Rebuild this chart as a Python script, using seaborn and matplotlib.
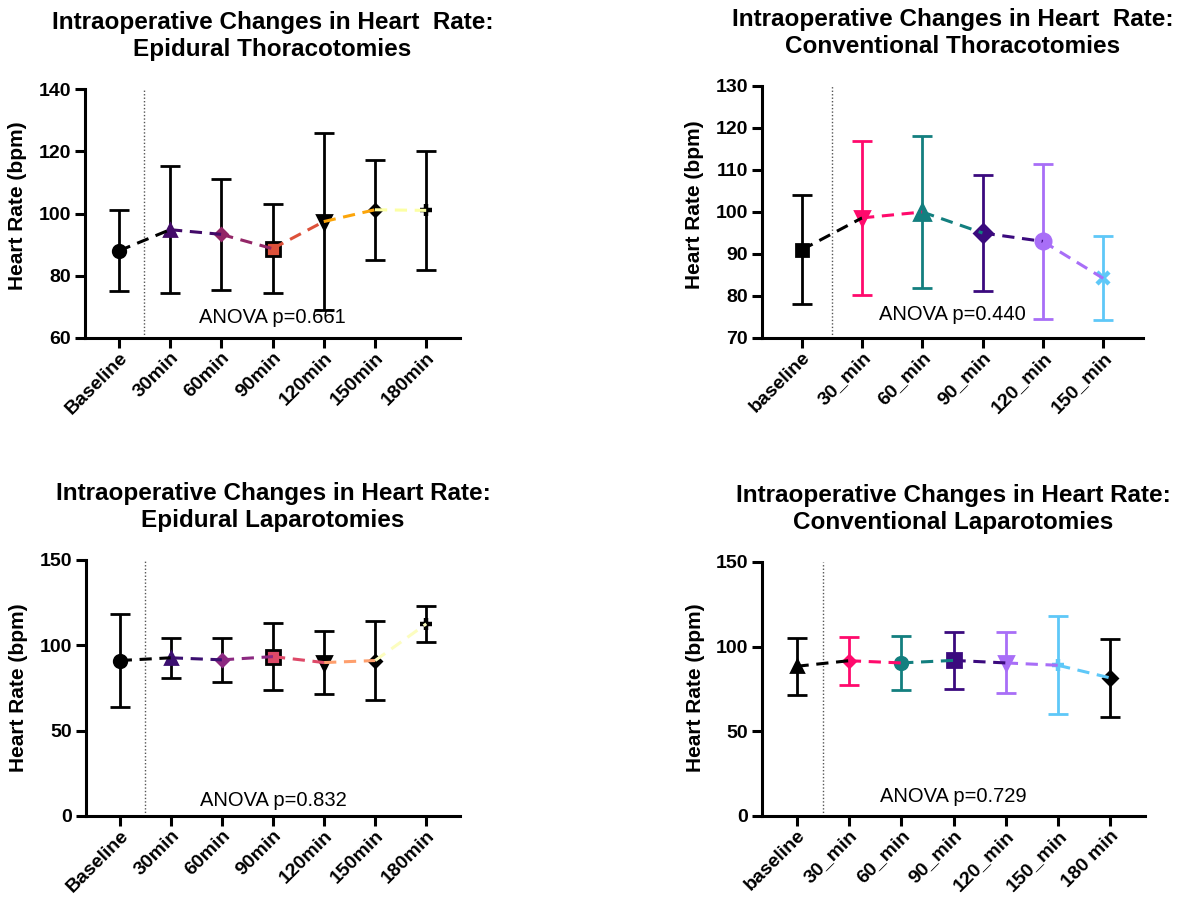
import numpy as np
import pandas as pd
import matplotlib
matplotlib.use("Agg")
import matplotlib.pyplot as plt
import seaborn as sns

sns.set_theme(style="ticks")
plt.rcParams['font.family'] = ['Liberation Sans', 'DejaVu Sans']
plt.rcParams['text.color'] = 'black'
plt.rcParams['axes.labelcolor'] = 'black'
plt.rcParams['xtick.color'] = 'black'
plt.rcParams['ytick.color'] = 'black'
plt.rcParams['axes.edgecolor'] = 'black'

# ---------------- data ----------------
tl_title = "Intraoperative Changes in Heart  Rate:\nEpidural Thoracotomies"
tl_cats = ["Baseline", "30min", "60min", "90min", "120min", "150min", "180min"]
tl_mean = [88.0, 94.8, 93.3, 88.7, 97.4, 101.2, 101.0]
tl_sd = [13.0, 20.5, 17.8, 14.4, 28.5, 16.0, 19.0]
tl_p = "ANOVA p=0.661"

tr_title = "Intraoperative Changes in Heart  Rate:\nConventional Thoracotomies"
tr_cats = ["baseline", "30_min", "60_min", "90_min", "120_min", "150_min"]
tr_mean = [91.0, 98.6, 100.0, 95.0, 93.0, 84.2]
tr_sd = [13.0, 18.4, 18.2, 13.8, 18.5, 10.0]
tr_p = "ANOVA p=0.440"

bl_title = "Intraoperative Changes in Heart Rate:\nEpidural Laparotomies"
bl_cats = ["Baseline", "30min", "60min", "90min", "120min", "150min", "180min"]
bl_mean = [91.1, 92.7, 91.5, 93.4, 89.9, 91.1, 112.6]
bl_sd = [27.5, 11.7, 12.9, 19.7, 18.4, 22.9, 10.5]
bl_p = "ANOVA p=0.832"

br_title = "Intraoperative Changes in Heart Rate:\nConventional Laparotomies"
br_cats = ["baseline", "30_min", "60_min", "90_min", "120_min", "150_min", "180 min"]
br_mean = [88.4, 91.7, 90.4, 91.9, 90.4, 89.0, 81.5]
br_sd = [17.0, 14.2, 15.7, 17.0, 18.0, 29.0, 22.8]
br_p = "ANOVA p=0.729"

# ---------------- styles ----------------
inferno = ["#000000", "#420a68", "#932667", "#dd513a", "#fca50a", "#fcffa4"]
magma = ["#000000", "#3b0f70", "#8c2981", "#de4968", "#fe9f6d", "#fcfdbf"]
conv = ["#000000", "#ff0a6c", "#137f7f", "#3b0a7e", "#a86ef7", "#5ec8f8", "#000000"]

W, H = 1178, 901
fig = plt.figure(figsize=(W / 100, H / 100), dpi=100)


def add_axes(l, r, t, b):
    return fig.add_axes([l / W, 1 - b / H, (r - l) / W, (b - t) / H])


def panel(ax, title, cats, mean, sd, ylim, yticks, seg_colors, markers,
          ebar_colors, text, text_xy):
    n = len(cats)
    x = np.arange(n)
    mean = np.asarray(mean)
    sd = np.asarray(sd)
    # error bars
    for i in range(n):
        ax.errorbar(x[i], mean[i], yerr=sd[i], fmt='none', ecolor=ebar_colors[i],
                    elinewidth=2.0, capsize=7, capthick=2.0, zorder=2)
    # markers
    for i in range(n):
        m, fc, ec, ms = markers[i]
        if m in ('x', '+'):
            ax.plot(x[i], mean[i], marker=m, color=fc, ms=ms, mew=3.2,
                    ls='none', zorder=3)
        else:
            ax.plot(x[i], mean[i], marker=m, mfc=fc, mec=ec, ms=ms, mew=2.0,
                    ls='none', zorder=3)
    # dashed connecting segments
    rows = []
    for i in range(n - 1):
        rows.append({"seg": i, "x": x[i], "y": mean[i]})
        rows.append({"seg": i, "x": x[i + 1], "y": mean[i + 1]})
    segdf = pd.DataFrame(rows)
    sns.lineplot(data=segdf, x="x", y="y", hue="seg", palette=seg_colors[:n - 1],
                 legend=False, ax=ax, linewidth=2.2, sort=False,
                 estimator=None, zorder=4)
    for ln in ax.get_lines():
        if ln.get_zorder() == 4:
            ln.set_dashes([4, 2.5])
    ax.axvline(0.5, color="#555555", ls=(0, (1, 1.5)), lw=1.0, zorder=1)

    ax.set_xlim(-0.66, n - 1 + 0.66)
    ax.set_ylim(*ylim)
    ax.set_yticks(yticks)
    ax.set_xticks(x)
    ax.set_xticklabels(cats, rotation=45, ha='right', va='top',
                       rotation_mode='anchor', fontsize=14, fontweight='bold')
    for lab in ax.get_yticklabels():
        lab.set_fontsize(14)
        lab.set_fontweight('bold')
    ax.set_xlabel("")
    ax.set_ylabel("Heart Rate (bpm)", fontsize=15, fontweight='bold')
    ax.set_title(title, fontsize=17.5, fontweight='bold', pad=24, linespacing=1.2)
    sns.despine(ax=ax)
    for s in ("left", "bottom"):
        ax.spines[s].set_linewidth(2.2)
    ax.tick_params(axis='both', width=2.2, length=7, pad=3)
    ax.tick_params(axis='x', pad=1)
    ax.text(text_xy[0], text_xy[1], text, ha='center', va='center', fontsize=14.5)


def place_ylabel(ax, right_px, center_px, top, bottom):
    # ylabel anchor: right edge (text bottom) at right_px, vertical centre at center_px
    bb = ax.get_position()
    fx = (right_px / W - bb.x0) / bb.width
    fy = (bottom - center_px) / (bottom - top)
    ax.yaxis.set_label_coords(fx, fy)


ax1 = add_axes(85, 460, 89, 338)
panel(ax1, tl_title, tl_cats, tl_mean, tl_sd, (60, 140), [60, 80, 100, 120, 140],
      inferno,
      [('o', 'black', 'black', 9), ('^', inferno[1], inferno[1], 9),
       ('D', inferno[2], inferno[2], 6.5), ('s', inferno[3], 'black', 10),
       ('v', 'black', 'black', 10), ('D', 'black', 'black', 6.5),
       ('+', 'black', 'black', 9)],
      ['black'] * 7, tl_p, (3.0, 66.7))
place_ylabel(ax1, 27, 206, 89, 338)

ax2 = add_axes(762, 1143, 86, 338)
panel(ax2, tr_title, tr_cats, tr_mean, tr_sd, (70, 130), [70, 80, 90, 100, 110, 120, 130],
      conv,
      [('s', conv[0], conv[0], 9), ('v', conv[1], conv[1], 10),
       ('^', conv[2], conv[2], 11), ('D', conv[3], conv[3], 9),
       ('o', conv[4], conv[4], 11), ('x', conv[5], conv[5], 9)],
      conv[:6], tr_p, (2.5, 75.5))
place_ylabel(ax2, 704, 205, 86, 338)

ax3 = add_axes(86, 460, 560, 816)
panel(ax3, bl_title, bl_cats, bl_mean, bl_sd, (0, 150), [0, 50, 100, 150],
      magma,
      [('o', 'black', 'black', 9), ('^', magma[1], magma[1], 9),
       ('D', magma[2], magma[2], 6.5), ('s', magma[3], 'black', 10),
       ('v', 'black', 'black', 10), ('D', 'black', 'black', 6.5),
       ('+', 'black', 'black', 9)],
      ['black'] * 7, bl_p, (3.0, 9.0))
place_ylabel(ax3, 28, 688, 560, 816)

ax4 = add_axes(762, 1145, 562, 816)
panel(ax4, br_title, br_cats, br_mean, br_sd, (0, 150), [0, 50, 100, 150],
      conv,
      [('^', conv[0], conv[0], 9), ('D', conv[1], conv[1], 6.5),
       ('o', conv[2], conv[2], 9), ('s', conv[3], conv[3], 10),
       ('v', conv[4], conv[4], 10), ('+', conv[5], conv[5], 9),
       ('D', 'black', 'black', 7)],
      conv, br_p, (3.0, 11.6))
place_ylabel(ax4, 705, 688, 562, 816)

fig.savefig("out.png", dpi=100)
